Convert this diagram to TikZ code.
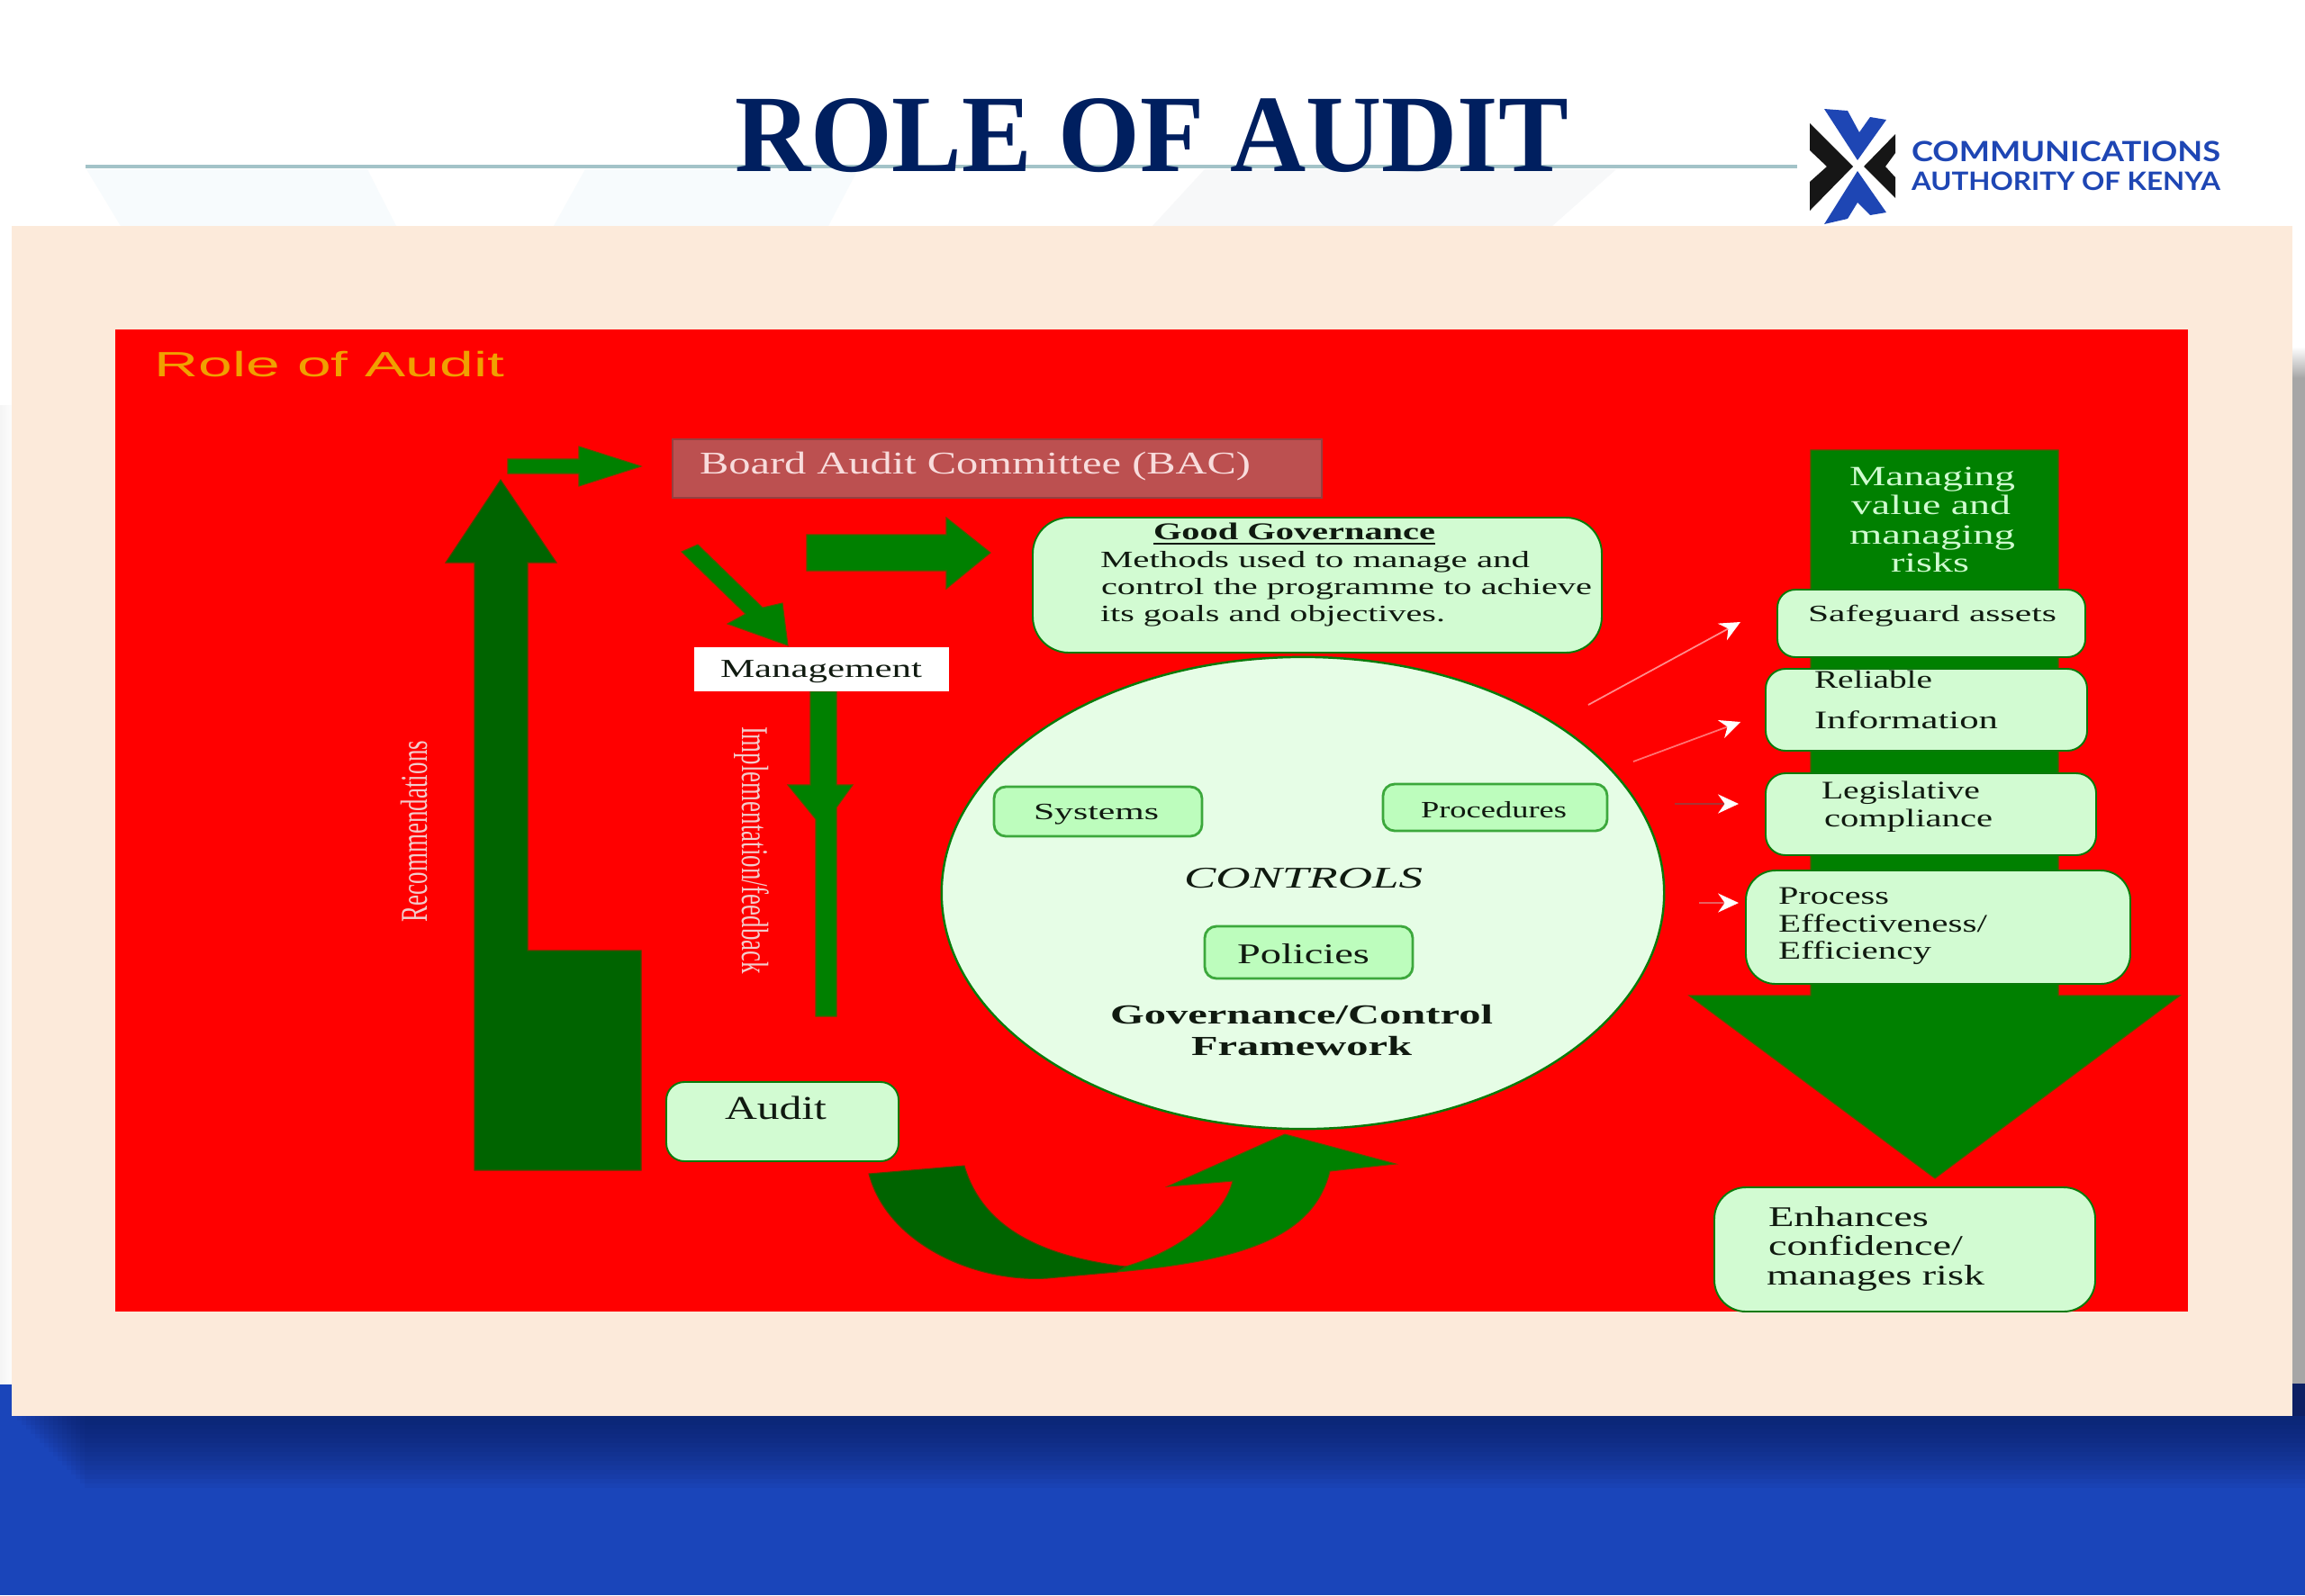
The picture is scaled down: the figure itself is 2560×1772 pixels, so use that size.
\documentclass[tikz,border=0pt]{standalone}
\usepackage{fontspec}
\usepackage{graphicx}
\usetikzlibrary{arrows.meta,shapes.geometric}
\setmainfont{Liberation Serif}
\newfontfamily\lsans{Liberation Sans}
\newfontfamily\logofont{Lato}
\definecolor{navy}{HTML}{001F5F}
\definecolor{rulec}{HTML}{A3C3C8}
\definecolor{wmark}{HTML}{F7FBFD}
\definecolor{wmarkb}{HTML}{F7F8F9}
\definecolor{panel}{HTML}{FCEADA}
\definecolor{band}{HTML}{1A45BA}
\definecolor{banddk}{HTML}{0A1A55}
\definecolor{dkgreen}{HTML}{006400}
\definecolor{mdgreen}{HTML}{008000}
\definecolor{palebox}{HTML}{D2FBD2}
\definecolor{paleedge}{HTML}{0A7A0A}
\definecolor{circfill}{HTML}{E6FDE6}
\definecolor{inbox}{HTML}{BDFDBD}
\definecolor{inedge}{HTML}{3CA83C}
\definecolor{bacfill}{HTML}{BC5050}
\definecolor{bactext}{HTML}{F8DCDC}
\definecolor{sidetext}{HTML}{F2CCCC}
\definecolor{mgtext}{HTML}{D0FBD0}
\definecolor{rolec}{HTML}{F0A000}
\definecolor{logoblue}{HTML}{1E46B4}
\definecolor{logoblack}{HTML}{161616}
\definecolor{inktext}{HTML}{101A10}
\definecolor{arrowc}{HTML}{A83434}
\definecolor{arrowd}{HTML}{E86060}
\newdimen\pxu \pxu=0.01cm
\newcommand{\sz}[1]{\fontsize{#1}{#1}\selectfont}
\tikzset{
  x=0.01cm,y=-0.01cm,
  lbl/.style={inner sep=0pt,outer sep=0pt,anchor=base west},
  pale/.style={rectangle,draw=paleedge,line width=0.55pt,fill=palebox,inner sep=0pt,outer sep=0pt,anchor=north west},
  inner/.style={rectangle,draw=inedge,line width=0.8pt,fill=inbox,rounded corners=0.13cm,inner sep=0pt,outer sep=0pt,anchor=north west},
  dkblock/.style={fill=dkgreen,draw=dkgreen!70!red,line width=0.3pt},
  mdblock/.style={fill=mdgreen,draw=mdgreen!70!red,line width=0.3pt},
  thinarrow/.style={line width=0.5pt,-{Stealth[length=6.5pt,width=6pt,color=white]}}
}
% name, x1, y1, x2, y2, style
\newcommand{\bx}[6]{\node[#6,minimum width={(#4-#2)*0.01cm},minimum height={(#5-#3)*0.01cm}] (#1) at (#2,#3) {};}
% name, x, baseline, width, colour, text
\newcommand{\tl}[6]{\node[lbl,text=#5] (#1) at (#2,#3) {\resizebox{#4\pxu}{\height}{#6}};}
\begin{document}
\begin{tikzpicture}
\useasboundingbox (0,0) rectangle (2560,1772);
\fill[white] (0,0) rectangle (2560,1772);
% watermark
\fill[wmark] (96,188)--(408,188)--(440,251)--(134,251)--cycle;
\fill[wmark] (650,188)--(953,188)--(920,251)--(615,251)--cycle;
\fill[wmarkb] (1338,188)--(1795,188)--(1724,251)--(1280,251)--cycle;
% rule
\fill[rulec] (95,183) rectangle (1996,187);
% bottom band and shadows
\fill[band] (0,1537) rectangle (2560,1772);
\shade[top color=white,bottom color=black!35] (2546,385) rectangle (2560,420);
\fill[black!35] (2546,420) rectangle (2560,1537);
\shade[left color=black!4,right color=black!1] (0,450) rectangle (13,1537);
\fill[banddk!85!band] (2546,1537) rectangle (2560,1573);
\foreach \i in {1,...,16}{
  \fill[banddk,opacity=0.06] ({14+\i*5},1573) rectangle (2560,{1573+\i*5});
}
% panel and red field
\fill[panel] (13,251) rectangle (2546,1573);
\fill[red] (128,366) rectangle (2430,1457);
% title
\tl{title}{816}{190}{926}{navy}{\sz{34.8pt}\bfseries ROLE OF AUDIT}
% logo
\fill[logoblue] (2026,121)--(2052,123)--(2065,147)--(2077,130)--(2095,133)--(2063,178)--cycle;
\fill[logoblue] (2063,190)--(2095,236)--(2077,239)--(2063,225)--(2052,243)--(2026,249)--cycle;
\fill[logoblack] (2010,137)--(2058,185)--(2010,234)--(2010,202)--(2029,185)--(2010,167)--cycle;
\fill[logoblack] (2105,149)--(2070,185)--(2105,220)--(2105,197)--(2094,185)--(2105,170)--cycle;
\tl{logoa}{2123}{179}{343}{logoblue}{\logofont\bfseries\sz{8.8pt}COMMUNICATIONS}
\tl{logob}{2123}{211}{343}{logoblue}{\logofont\bfseries\sz{8pt}AUTHORITY OF KENYA}
% panel caption
\tl{role}{172}{418}{388}{rolec}{\lsans\sz{11.1pt}Role of Audit}
% block arrows, left
\path[mdblock] (564,510)--(643,510)--(643,496)--(712,518)--(643,540)--(643,526)--(564,526)--cycle;
\path[dkblock] (556,533)--(618,625)--(586,625)--(586,1056)--(712,1056)--(712,1300)--(527,1300)--(527,625)--(495,625)--cycle;
\path[mdblock] (896,594)--(1051,594)--(1051,575)--(1100,614)--(1051,654)--(1051,634)--(896,634)--cycle;
\path[mdblock] (757,613)--(775,605)--(847,675)--(869,670)--(875,717)--(808,693)--(828,682)--cycle;
\path[mdblock] (900,768)--(929,768)--(929,872)--(947,872)--(929,897)--(929,1129)--(906,1129)--(906,910)--(875,872)--(900,872)--cycle;
% curved arrow
\path[mdblock] (1250,1407) .. controls (1310,1390) and (1360,1350) .. (1369,1312)--(1297,1318)--(1427,1260)--(1550,1293)--(1477,1301) .. controls (1460,1370) and (1390,1400) .. (1240,1413)--cycle;
\path[dkblock] (965,1304)--(1071,1295) .. controls (1090,1360) and (1150,1395) .. (1250,1407)--(1240,1413)--(1163,1420) .. controls (1080,1425) and (985,1380) .. (965,1304)--cycle;
% right-hand column arrow
\path[mdblock] (2011,500)--(2286,500)--(2286,1106)--(2421,1106)--(2149,1309)--(1876,1106)--(2011,1106)--cycle;
\tl{mgone}{2054}{539}{184}{mgtext}{\sz{8.8pt}Managing}
\tl{mgtwo}{2056}{571}{177}{mgtext}{\sz{8.8pt}value and}
\tl{mgthree}{2054}{604}{184}{mgtext}{\sz{8.8pt}managing}
\tl{mgfour}{2100}{635}{87}{mgtext}{\sz{8.8pt}risks}
% BAC and Management
\bx{bac}{747}{488}{1468}{553}{rectangle,draw=bacfill!80!black,line width=0.4pt,fill=bacfill,inner sep=0pt,outer sep=0pt,anchor=north west}
\tl{bactxt}{777}{526}{612}{bactext}{\sz{10pt}Board Audit Committee (BAC)}
\bx{mgmt}{771}{719}{1054}{768}{rectangle,fill=white,inner sep=0pt,outer sep=0pt,anchor=north west}
\tl{mgmttxt}{800}{752}{224}{inktext}{\sz{8.2pt}Management}
\node[lbl,rotate=90,text=sidetext] (recs) at (474,1024) {\resizebox{201\pxu}{\height}{\sz{12pt}Recommendations}};
\node[lbl,rotate=-90,text=sidetext] (impl) at (824,807) {\resizebox{275\pxu}{\height}{\sz{12pt}Implementation/feedback}};
% Good governance
\bx{gov}{1147}{575}{1779}{725}{pale,rounded corners=0.4cm}
\tl{govh}{1281}{599}{313}{inktext}{\sz{7.6pt}\bfseries\underline{Good Governance}}
\tl{govl}{1222}{630}{477}{inktext}{\sz{7.4pt}Methods used to manage and}
\tl{govm}{1223}{660}{545}{inktext}{\sz{7.4pt}control the programme to achieve}
\tl{govn}{1222}{690}{383}{inktext}{\sz{7.4pt}its goals and objectives.}
% controls circle
\node[ellipse,draw=paleedge,line width=0.7pt,fill=circfill,minimum width=8.02cm,minimum height=5.24cm,inner sep=0pt,outer sep=0pt] (circ) at (1447,992) {};
\bx{sys}{1104}{874}{1335}{929}{inner}
\tl{systxt}{1148}{910}{139}{inktext}{\sz{7.4pt}Systems}
\bx{proc}{1536}{871}{1785}{923}{inner}
\tl{proctxt}{1578}{908}{162}{inktext}{\sz{7.4pt}Procedures}
\tl{ctrl}{1315}{986}{265}{inktext}{\sz{9.5pt}\itshape CONTROLS}
\bx{pol}{1338}{1029}{1569}{1087}{inner}
\tl{poltxt}{1374}{1070}{147}{inktext}{\sz{9pt}Policies}
\tl{gcf}{1233}{1137}{425}{inktext}{\sz{8.7pt}\bfseries Governance/Control}
\tl{gcg}{1323}{1172}{245}{inktext}{\sz{8.7pt}\bfseries Framework}
% audit
\bx{aud}{740}{1202}{998}{1290}{pale,rounded corners=0.2cm}
\tl{audtxt}{805}{1243}{113}{inktext}{\sz{10.5pt}Audit}
% right column boxes
\bx{safe}{1974}{655}{2316}{730}{pale,rounded corners=0.2cm}
\tl{safetxt}{2008}{690}{276}{inktext}{\sz{7.4pt}Safeguard assets}
\bx{rel}{1961}{743}{2318}{834}{pale,rounded corners=0.22cm}
\tl{relone}{2015}{764}{131}{inktext}{\sz{8pt}Reliable}
\tl{reltwo}{2015}{809}{204}{inktext}{\sz{8pt}Information}
\bx{leg}{1961}{859}{2328}{950}{pale,rounded corners=0.22cm}
\tl{legone}{2023}{887}{176}{inktext}{\sz{8pt}Legislative}
\tl{legtwo}{2026}{918}{187}{inktext}{\sz{8pt}compliance}
\bx{pro}{1939}{967}{2366}{1093}{pale,rounded corners=0.33cm}
\tl{proone}{1975}{1004}{123}{inktext}{\sz{8pt}Process}
\tl{protwo}{1975}{1035}{232}{inktext}{\sz{8pt}Effectiveness/}
\tl{prothree}{1975}{1065}{170}{inktext}{\sz{8pt}Efficiency}
\bx{enh}{1904}{1319}{2327}{1457}{pale,rounded corners=0.35cm}
\tl{enhone}{1964}{1362}{178}{inktext}{\sz{9pt}Enhances}
\tl{enhtwo}{1964}{1394}{216}{inktext}{\sz{9pt}confidence/}
\tl{enhthree}{1962}{1427}{242}{inktext}{\sz{9pt}manages risk}
% thin arrows
\coordinate (aas) at (1764,783); \coordinate (aae) at (1933,691);
\coordinate (abs) at (1814,846); \coordinate (abe) at (1933,802);
\coordinate (acs) at (1860,893); \coordinate (ace) at (1931,893);
\coordinate (ads) at (1887,1003); \coordinate (ade) at (1931,1003);
\draw[thinarrow,draw=red!45!white] (aas) -- (aae);
\draw[thinarrow,draw=red!55!white] (abs) -- (abe);
\draw[thinarrow,draw=arrowc,line width=0.8pt] (acs) -- (ace);
\draw[thinarrow,draw=arrowd] (ads) -- (ade);
\end{tikzpicture}
\end{document}
